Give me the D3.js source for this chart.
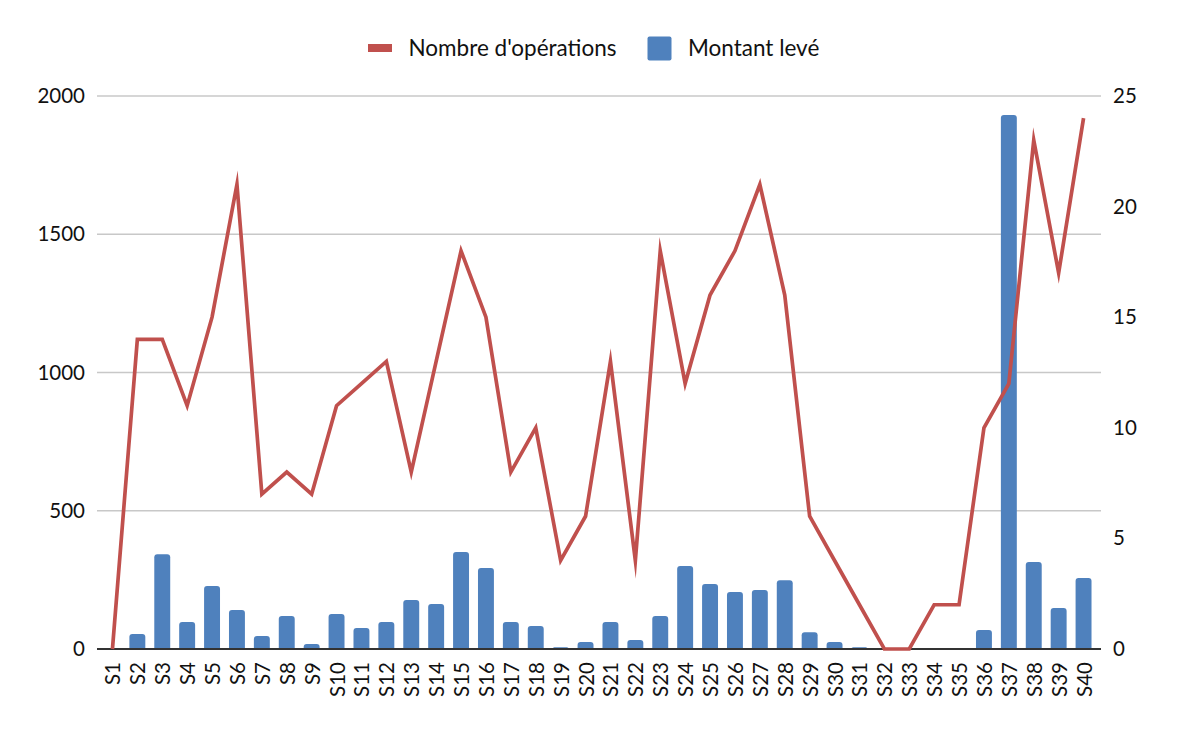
<!DOCTYPE html>
<html><head><meta charset="utf-8">
<script src="https://cdn.jsdelivr.net/npm/d3@7"></script>
<style>body{margin:0;background:#fff;}svg{display:block;font-family:Lato,sans-serif;}</style>
</head><body>
<svg id="c" width="1186" height="734"></svg>
<script>
const categories = d3.range(1,41).map(i=>"S"+i);
const montant = [0,54,343,98,228,141,47,119,18,127,76,98,177,163,351,293,98,83,6,25,98,33,119,300,235,206,213,249,61,25,6,0,0,0,0,69,1931,315,148,257];
const operations = [0,14,14,11,15,21,7,8,7,11,12,13,8,13,18,15,8,10,4,6,13,4,18,12,16,18,21,16,6,4,2,0,0,2,2,10,12,23,17,24];
const leftTicks = [0,500,1000,1500,2000];
const rightTicks = [0,5,10,15,20,25];
const seriesNames = ["Nombre d'opérations","Montant levé"];

const FONT = "Lato,sans-serif";
const TXT = "#111";
const svg = d3.select("#c");
const L=100, R=1096, T=96, B=649;
const x = d3.scaleBand().domain(categories).range([L,R]).paddingInner(0.36).paddingOuter(0.18);
const xc = d3.scalePoint().domain(categories).range([L,R]).padding(0.5);
const yL = d3.scaleLinear().domain([0,2000]).range([B,T]);
const yR = d3.scaleLinear().domain([0,25]).range([B,T]);

// gridlines
svg.append("g").selectAll("line").data(leftTicks.filter(d=>d>0)).join("line")
  .attr("x1",L-3).attr("x2",R+5).attr("y1",d=>yL(d)).attr("y2",d=>yL(d))
  .attr("stroke","#c8c8c8").attr("stroke-width",1.5);

// left axis
const gl = svg.append("g").attr("transform",`translate(${L-3},0)`)
  .call(d3.axisLeft(yL).tickValues(leftTicks).tickFormat(d3.format("d")).tickSize(0).tickPadding(12));
gl.select(".domain").remove();
gl.selectAll("text").attr("font-size",20.5).attr("fill",TXT).attr("font-family",FONT);

// right axis
const gr = svg.append("g").attr("transform",`translate(${R+5},0)`)
  .call(d3.axisRight(yR).tickValues(rightTicks).tickFormat(d3.format("d")).tickSize(0).tickPadding(12));
gr.select(".domain").remove();
gr.selectAll("text").attr("font-size",20.5).attr("fill",TXT).attr("font-family",FONT);

// bars with rounded tops
const bw = x.bandwidth(), r = 3;
svg.append("g").selectAll("path").data(montant.map((v,i)=>({c:categories[i],v}))).join("path")
  .attr("fill","#4F81BD")
  .attr("d",d=>{
    const x0=x(d.c), y0=yL(d.v), h=B-y0;
    if(h<=0) return "";
    const rr=Math.min(r,h,bw/2);
    return `M${x0},${B}V${y0+rr}Q${x0},${y0} ${x0+rr},${y0}H${x0+bw-rr}Q${x0+bw},${y0} ${x0+bw},${y0+rr}V${B}Z`;
  });

// zero baseline
svg.append("line").attr("x1",L-3).attr("x2",R+5).attr("y1",B).attr("y2",B)
  .attr("stroke","#333").attr("stroke-width",2.2);

// line
svg.append("path").datum(operations.map((v,i)=>({c:categories[i],v})))
  .attr("fill","none").attr("stroke","#C0504D").attr("stroke-width",3.7)
  .attr("stroke-linejoin","miter").attr("stroke-miterlimit",10)
  .attr("d",d3.line().x(d=>xc(d.c)).y(d=>yR(d.v)));

// x axis labels
const gx = svg.append("g").attr("transform",`translate(0,${B})`)
  .call(d3.axisBottom(xc).tickSize(0).tickPadding(0));
gx.select(".domain").remove();
gx.selectAll("text").attr("font-size",20.5).attr("fill",TXT).attr("font-family",FONT)
  .attr("text-anchor","end").attr("dy",null).attr("y",0)
  .attr("transform","translate(7.5,13) rotate(-90)");

// legend
const lg = svg.append("g").attr("font-family",FONT);
lg.append("rect").attr("x",368).attr("y",44).attr("width",24).attr("height",8).attr("fill","#C0504D");
lg.append("text").attr("x",408.5).attr("y",56).attr("font-size",22.5).attr("fill",TXT).text(seriesNames[0]);
lg.append("rect").attr("x",647.5).attr("y",36.5).attr("width",24).attr("height",24).attr("rx",2).attr("fill","#4F81BD");
lg.append("text").attr("x",688).attr("y",56).attr("font-size",22.5).attr("fill",TXT).text(seriesNames[1]);
</script>
</body></html>
